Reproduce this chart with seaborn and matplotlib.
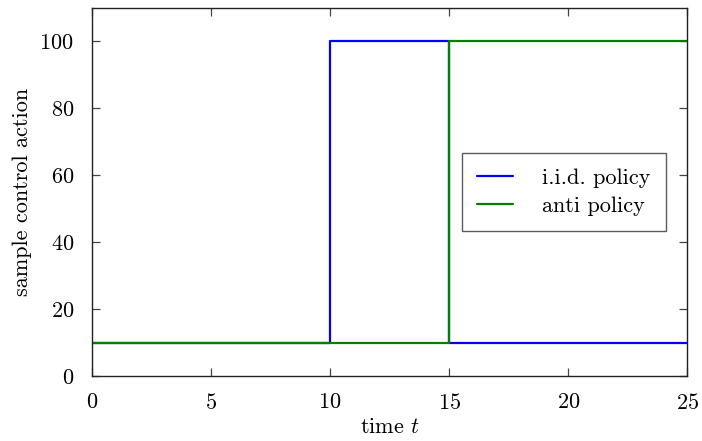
import pandas as pd
import matplotlib
matplotlib.use("Agg")
import matplotlib.pyplot as plt
import seaborn as sns

# Datos
t = [0, 10, 15, 25]
iid_policy = [10, 100, 10, 10]
anti_policy = [10, 10, 100, 100]
x_ticks = [0, 5, 10, 15, 20, 25]
y_ticks = [0, 20, 40, 60, 80, 100]

sns.set_style("ticks")
plt.rcParams["font.family"] = ["cmr10", "DejaVu Serif"]
plt.rcParams["mathtext.fontset"] = "cm"
plt.rcParams["axes.formatter.use_mathtext"] = True
plt.rcParams["text.color"] = "black"
plt.rcParams["axes.labelcolor"] = "black"
plt.rcParams["xtick.labelcolor"] = "black"
plt.rcParams["ytick.labelcolor"] = "black"

df = pd.DataFrame({"t": t, "i.i.d. policy": iid_policy, "anti policy": anti_policy})

fig, ax = plt.subplots(figsize=(7.02, 4.41), dpi=100)
sns.lineplot(data=df, x="t", y="i.i.d. policy", ax=ax, color="#0000ff",
             drawstyle="steps-post", lw=1.6, label="i.i.d. policy")
sns.lineplot(data=df, x="t", y="anti policy", ax=ax, color="#008000",
             drawstyle="steps-post", lw=1.6, label="anti policy")

ax.set_xlim(0, 25)
ax.set_ylim(0, 110)
ax.set_xticks(x_ticks)
ax.set_yticks(y_ticks)
ax.set_xlabel("time $t$", fontsize=16, labelpad=3)
ax.set_ylabel("sample control action", fontsize=16, labelpad=5)
ax.tick_params(direction="in", length=6, width=0.9, top=True, right=True,
               labelsize=16, color="#444444")
ax.tick_params(axis="x", pad=12)
ax.tick_params(axis="y", pad=13)
for s in ax.spines.values():
    s.set_linewidth(1.0)
    s.set_color("#222222")

leg = ax.legend(loc="center right", bbox_to_anchor=(0.964, 0.5), fontsize=16,
                frameon=True, fancybox=False, edgecolor="#333333",
                handlelength=1.6, handletextpad=1.3, borderpad=0.7,
                labelspacing=0.36, borderaxespad=0)
leg.get_frame().set_linewidth(1.0)

fig.subplots_adjust(left=0.131, right=0.979, top=0.982, bottom=0.147)
fig.savefig("out.png", dpi=100)
